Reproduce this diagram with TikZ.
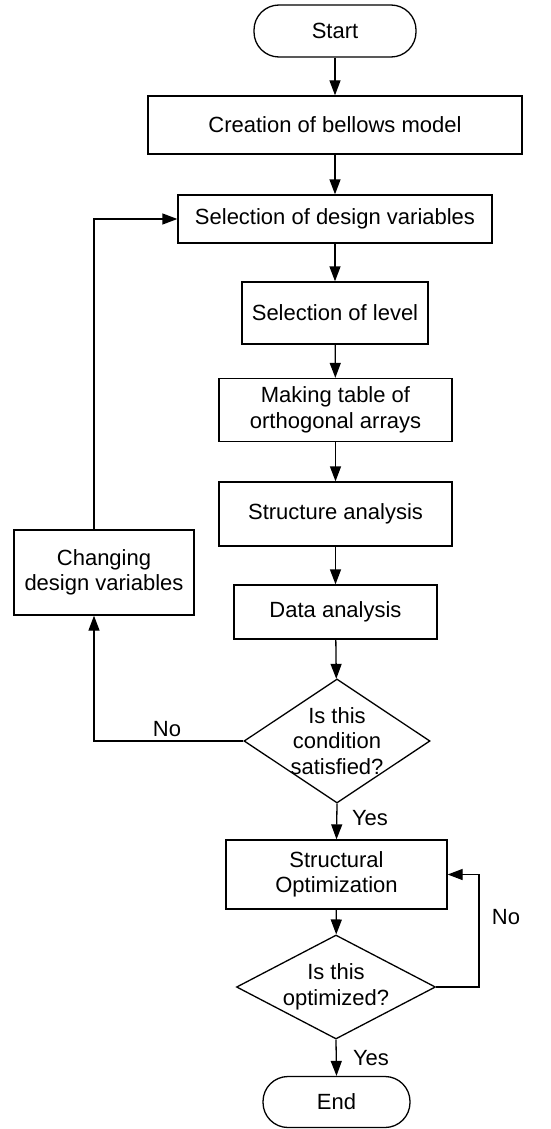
\documentclass[tikz,border=0pt]{standalone}
\usepackage{fontspec}
\setmainfont{Liberation Sans}
\usetikzlibrary{arrows.meta,shapes.geometric}
\begin{document}
\begin{tikzpicture}[x=1pt,y=-1pt,
  every node/.style={font=\fontsize{22}{25.5}\selectfont, align=center},
  box/.style={draw, line width=1.3pt, rectangle, inner sep=0pt},
  term/.style={draw, line width=1.3pt, rectangle, rounded corners=25pt, inner sep=0pt},
  dec/.style={draw, line width=1.3pt, diamond, inner sep=0pt},
  arr/.style={line width=1.3pt, -{Triangle[length=15pt,width=11pt]}},
  lbl/.style={inner sep=0pt}]
\useasboundingbox (0,0) rectangle (550,1129);
\node[term, minimum width=162pt, minimum height=52pt] (start) at (335,31) {Start};
\node[box, minimum width=374pt, minimum height=58pt] (create) at (335,125) {Creation of bellows model};
\node[box, minimum width=314pt, minimum height=48pt] (seldes) at (335,219) {Selection of design variables};
\node[box, minimum width=186pt, minimum height=62pt] (level) at (335,313) {Selection of level};
\node[box, minimum width=233pt, minimum height=63pt] (table) at (335.5,410) {Making table of\\orthogonal arrays};
\node[box, minimum width=233pt, minimum height=64pt] (struct) at (335.5,514) {Structure analysis};
\node[box, minimum width=203pt, minimum height=54pt] (data) at (335.5,612) {Data analysis};
\node[dec, minimum width=186pt, minimum height=124pt,
  label={[align=center]center:Is this\\condition\\satisfied?}] (cond) at (337,741) {};
\node[box, minimum width=180pt, minimum height=85pt] (chg) at (104,572.5) {Changing\\design variables};
\node[box, minimum width=221pt, minimum height=69pt] (opt) at (336.5,874.5) {Structural\\Optimization};
\node[dec, minimum width=199pt, minimum height=104pt,
  label={[align=center]center:Is this\\optimized?}] (optq) at (336,987) {};
\node[term, minimum width=147pt, minimum height=51pt] (end) at (336.5,1102) {End};
\coordinate (fbx) at (94,0);
\coordinate (rbx) at (479,0);

\draw[arr] (start) -- (create);
\draw[arr] (create) -- (seldes);
\draw[arr] (seldes) -- (level);
\draw[arr] (level) -- (table);
\draw[arr] (table) -- (struct);
\draw[arr] (struct) -- (data);
\draw[arr] (data) -- (cond);
\draw[arr] (cond.south) -- (opt.north);
\draw[arr] (opt) -- (optq);
\draw[arr] (optq.south) -- (end.north);
\draw[arr] (cond.west) -| (fbx |- chg.south);
\draw[arr] (fbx |- chg.north) |- (seldes.west);
\draw[arr] (optq.east) -| (rbx |- opt.east) -- (opt.east);

\node[lbl] (no1) at (167,729) {No};
\node[lbl] (yes1) at (370,818) {Yes};
\node[lbl] (no2) at (506,917) {No};
\node[lbl] (yes2) at (371,1058) {Yes};
\end{tikzpicture}
\end{document}
